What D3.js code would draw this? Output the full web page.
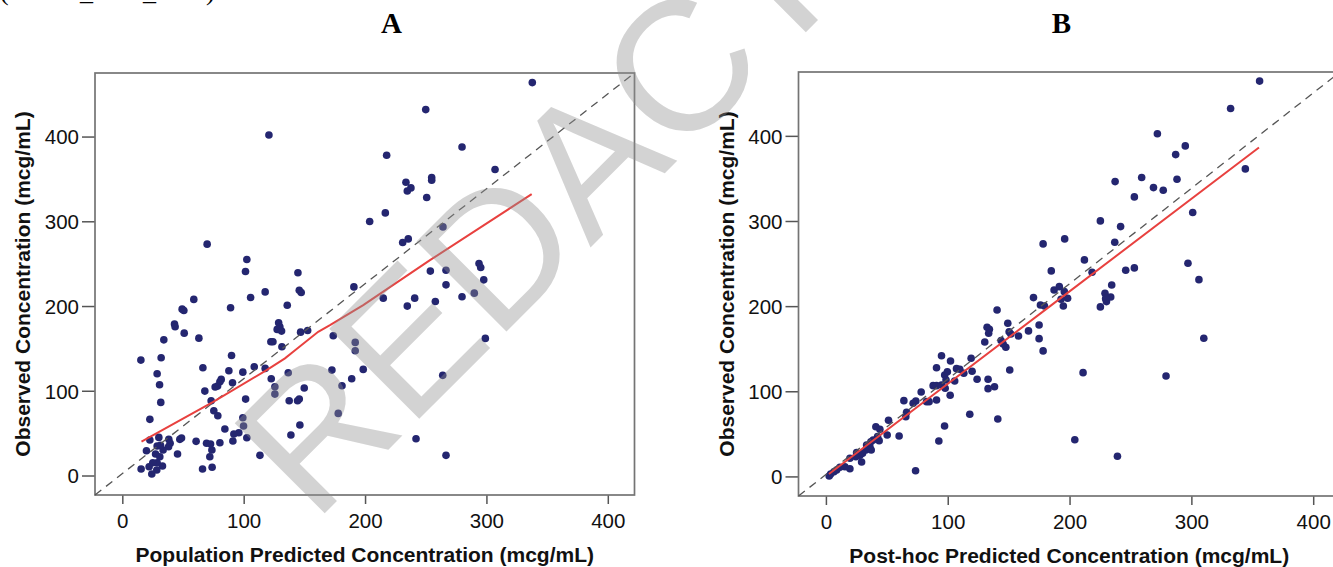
<!DOCTYPE html>
<html>
<head>
<meta charset="utf-8">
<script src="https://cdn.jsdelivr.net/npm/d3@7"></script>
<style>
  html, body { margin: 0; padding: 0; background: #fff; }
  svg { display: block; }
</style>
</head>
<body>
<script>
// ---------------- data ----------------
const tickValues = [0, 100, 200, 300, 400];

// Panel A: population predicted vs observed (mcg/mL)
const popPred = [
  120.8, 69.9, 102.6, 101.5, 117.7, 144.7, 145.8, 147.4, 105.7, 58.9,
  49.3, 50.7, 89.2, 135.9, 43.0, 43.5, 51.0, 34.2, 63.1, 128.8,
  129.8, 127.6, 131.2, 146.9, 152.7, 122.4, 124.1, 131.5, 15.3, 32.0,
  28.7, 30.7, 31.7, 22.7, 66.4, 90.0, 87.8, 99.3, 108.7, 117.7,
  122.7, 125.7, 125.7, 81.5, 80.4, 78.5, 76.5, 90.8, 68.0, 73.2,
  75.4, 78.7, 101.6, 99.3, 99.9, 96.0, 91.9, 91.1, 102.6, 84.5,
  80.4, 113.4, 60.8, 69.4, 72.7, 73.8, 72.1, 74.0, 66.1, 48.8,
  47.4, 45.5,
  22.7, 30.1, 38.3, 39.4, 38.1, 33.6, 28.7, 31.5, 19.9, 27.4,
  30.9, 28.7, 25.1, 22.1, 15.5, 33.1, 28.4, 24.3,
  337.8, 250.0, 279.9, 217.8, 307.1, 254.9, 254.9, 233.7, 237.8, 234.8,
  250.8, 216.7, 203.8, 264.2, 235.6, 231.0, 293.9, 295.3, 253.8, 266.7,
  190.8, 297.8, 266.7, 279.9, 290.0, 215.0, 240.9, 257.9, 234.8, 173.8,
  191.9, 191.9, 172.7, 198.5, 189.0, 181.0, 149.9, 137.5, 144.4, 145.8,
  146.3, 177.9, 299.1, 264.0, 242.0, 266.7, 138.9, 136.7
];
const obsPop = [
  401.9, 273.0, 255.0, 240.8, 216.7, 239.2, 218.7, 216.0, 210.1, 207.8,
  196.3, 194.8, 197.9, 201.0, 178.7, 175.5, 168.0, 160.1, 162.1, 180.2,
  175.5, 172.4, 170.4, 169.2, 171.2, 157.8, 157.8, 151.9, 136.2, 138.9,
  120.0, 107.1, 86.3, 66.3, 127.1, 141.7, 123.6, 122.0, 128.3, 126.4,
  114.2, 104.7, 96.1, 113.4, 110.6, 105.5, 104.4, 109.5, 99.6, 88.2,
  76.4, 70.5, 90.2, 68.2, 58.4, 50.5, 48.9, 40.7, 44.6, 54.8,
  38.7, 23.8, 40.3, 38.0, 37.1, 30.1, 22.2, 9.7, 7.7, 44.2,
  42.7, 25.4,
  41.9, 45.0, 42.7, 38.0, 34.0, 30.1, 34.8, 35.6, 29.2, 25.4,
  22.2, 15.1, 15.1, 10.4, 7.7, 11.2, 6.5, 1.8,
  463.7, 431.8, 387.7, 378.0, 361.1, 351.7, 348.5, 346.1, 339.4, 335.8,
  328.0, 309.9, 299.8, 293.4, 279.2, 275.0, 250.2, 245.5, 241.2, 242.3,
  222.6, 230.9, 225.0, 210.9, 215.2, 209.3, 209.3, 205.4, 199.9, 164.9,
  157.1, 147.2, 124.4, 125.2, 114.2, 105.9, 103.2, 88.2, 88.2, 90.2,
  59.6, 73.3, 161.8, 118.2, 43.4, 23.8, 47.8, 121.2
];
// Smoothed fit through panel A
const fitPopX = [15.8, 74.9, 118.9, 134.0, 140.8, 161.4, 171.1, 198.5, 253.5, 337.3];
const fitPopY = [39.9, 87.0, 124.4, 138.2, 146.0, 169.6, 177.5, 201.1, 254.1, 332.0];

// Panel B: post-hoc predicted vs observed (mcg/mL)
const postHoc = [
  178.3, 196.0, 185.0, 356.0, 332.2, 272.1, 295.0, 287.1, 259.2, 237.4,
  288.2, 268.9, 276.9, 253.2, 344.3, 301.1, 225.3, 241.9, 237.1, 212.2,
  297.2, 218.5, 246.1, 253.2, 306.2, 234.6, 187.3, 191.6, 195.7, 198.4,
  194.9, 193.0, 229.1, 230.3, 233.8, 225.3, 229.6, 310.2, 211.1, 279.2,
  204.3, 239.3,
  170.4, 176.1, 179.4, 140.5, 149.3, 132.3, 134.2, 133.6, 166.3, 158.1,
  150.4, 151.8, 175.0, 175.0, 178.3, 130.4, 143.8, 147.7, 145.5, 150.9,
  119.2, 120.0, 124.1, 133.1, 133.1, 138.4, 113.2, 109.9, 107.2, 102.3,
  94.9, 90.8, 97.5, 99.7, 98.6, 105.7, 88.0, 90.8, 94.9, 97.9,
  102.0, 90.8, 78.2, 82.6, 84.7, 73.8, 71.6, 64.0, 66.2, 65.6,
  51.4, 118.1, 141.1, 97.4, 92.7, 73.6, 60.1, 50.3, 41.0, 44.3,
  42.4, 43.7, 38.8, 36.9, 36.1, 33.4, 32.8, 37.2, 30.1, 25.2,
  27.9, 29.3, 24.6, 19.7, 19.7, 15.6, 11.5, 8.8, 6.6, 3.9,
  2.7
];
const obsPost = [
  273.1, 279.0, 241.4, 464.3, 432.1, 402.4, 388.2, 378.0, 351.0, 346.3,
  349.1, 339.2, 336.2, 328.3, 361.2, 309.9, 300.1, 293.4, 275.1, 254.3,
  250.4, 239.8, 242.2, 244.9, 231.1, 224.9, 219.0, 222.9, 217.0, 209.3,
  200.2, 208.1, 215.2, 205.3, 210.8, 199.1, 208.8, 162.3, 121.9, 118.0,
  43.1, 23.6,
  210.0, 201.4, 200.2, 195.5, 179.9, 175.2, 172.9, 168.2, 170.9, 165.0,
  170.0, 167.3, 177.9, 161.8, 147.4, 157.9, 159.5, 151.7, 155.6, 125.0,
  138.8, 123.5, 114.1, 114.1, 103.1, 105.4, 121.2, 125.9, 126.6, 135.6,
  141.8, 127.7, 119.2, 123.0, 113.3, 112.1, 106.6, 106.6, 107.4, 103.5,
  95.3, 89.8, 99.2, 87.8, 87.8, 88.6, 85.9, 89.0, 75.3, 70.2,
  65.9, 73.0, 67.5, 59.2, 41.6, 6.7, 47.5, 48.6, 58.4, 55.3,
  46.7, 42.0, 42.8, 40.8, 34.9, 36.9, 31.0, 31.0, 27.1, 27.9,
  24.8, 16.9, 23.1, 21.3, 9.0, 11.4, 10.7, 7.5, 5.5, 2.8,
  0.5
];
const fitPostX = [2.5, 184.6, 355.5];
const fitPostY = [2.8, 200.6, 386.3];

const panelLetters = ["A", "B"];
const xTitles = ["Population Predicted Concentration (mcg/mL)", "Post-hoc Predicted Concentration (mcg/mL)"];
const yTitle = "Observed Concentration (mcg/mL)";
const watermark = "REDACTED";

// ---------------- drawing ----------------
const W = 1333, H = 567;
const xDomain = [-22.5, 422];
const yDomain = [-23, 475];

const svg = d3.select("body").append("svg")
  .attr("width", W).attr("height", H)
  .attr("viewBox", `0 0 ${W} ${H}`);
svg.append("rect").attr("width", W).attr("height", H).attr("fill", "#fff");

const panels = [
  { box: { x0: 95, x1: 634.5, y0: 73, y1: 495 }, xs: popPred, ys: obsPop,
    fx: fitPopX, fy: fitPopY, letter: panelLetters[0], letterX: 391.5, xTitle: xTitles[0] },
  { box: { x0: 798.5, x1: 1340, y0: 72, y1: 496 }, xs: postHoc, ys: obsPost,
    fx: fitPostX, fy: fitPostY, letter: panelLetters[1], letterX: 1061.5, xTitle: xTitles[1] }
];

const sans = "'Liberation Sans', Arial, sans-serif";

panels.forEach(p => {
  const b = p.box;
  const x = d3.scaleLinear().domain(xDomain).range([b.x0, b.x1]);
  const y = d3.scaleLinear().domain(yDomain).range([b.y1, b.y0]);
  const g = svg.append("g");

  // panel letter
  g.append("text")
    .attr("x", p.letterX).attr("y", 33)
    .attr("text-anchor", "middle")
    .attr("font-family", "'Liberation Serif', 'Times New Roman', serif")
    .attr("font-weight", "bold").attr("font-size", 29)
    .attr("fill", "#000")
    .text(p.letter);

  // axes
  const xAxis = g.append("g")
    .attr("transform", `translate(0,${b.y1})`)
    .call(d3.axisBottom(x).tickValues(tickValues).tickSize(9).tickPadding(9).tickFormat(d3.format("d")));
  const yAxis = g.append("g")
    .attr("transform", `translate(${b.x0},0)`)
    .call(d3.axisLeft(y).tickValues(tickValues).tickSize(13).tickPadding(3).tickFormat(d3.format("d")));
  [xAxis, yAxis].forEach(ax => {
    ax.select(".domain").remove();
    ax.selectAll(".tick line").attr("stroke", "#555").attr("stroke-width", 1.5);
    ax.selectAll(".tick text")
      .attr("font-family", sans).attr("font-size", 20.5).attr("fill", "#111");
  });
  yAxis.selectAll(".tick text").attr("dy", "0.36em");

  // plot frame
  g.append("rect")
    .attr("x", b.x0).attr("y", b.y0)
    .attr("width", b.x1 - b.x0).attr("height", b.y1 - b.y0)
    .attr("fill", "none").attr("stroke", "#747474").attr("stroke-width", 1.7);

  // points
  g.append("g").selectAll("circle")
    .data(d3.range(p.xs.length))
    .join("circle")
    .attr("cx", i => x(p.xs[i]))
    .attr("cy", i => y(p.ys[i]))
    .attr("r", 3.8)
    .attr("fill", "#242670");

  // reference diagonal, corner to corner of the plot area
  g.append("line")
    .attr("x1", x(xDomain[0])).attr("y1", y(yDomain[0]))
    .attr("x2", x(xDomain[1])).attr("y2", y(yDomain[1]))
    .attr("stroke", "#555").attr("stroke-width", 1.3)
    .attr("stroke-dasharray", "8,6");

  // fit line
  const line = d3.line().x(i => x(p.fx[i])).y(i => y(p.fy[i]));
  g.append("path")
    .attr("d", line(d3.range(p.fx.length)))
    .attr("fill", "none").attr("stroke", "#e8413f").attr("stroke-width", 2);

  // axis titles
  g.append("text")
    .attr("x", (b.x0 + Math.min(b.x1, b.x0 + 541.5)) / 2).attr("y", b.y1 + 66.5)
    .attr("text-anchor", "middle")
    .attr("font-family", sans).attr("font-weight", "bold").attr("font-size", 21)
    .attr("fill", "#111")
    .text(p.xTitle);
  g.append("text")
    .attr("transform", `translate(${b.x0 - 65},${(b.y0 + b.y1) / 2}) rotate(-90)`)
    .attr("text-anchor", "middle")
    .attr("font-family", sans).attr("font-weight", "bold").attr("font-size", 21)
    .attr("fill", "#111")
    .text(yTitle);
});

// clipped caption line above the figure
const captionGlyphs = [["(", 0], ["_", 80], ["_", 143], [")", 206]];
svg.append("g").selectAll("text")
  .data(captionGlyphs)
  .join("text")
  .attr("x", d => d[1]).attr("y", 0)
  .attr("font-family", "'Liberation Serif', serif").attr("font-size", 26)
  .attr("fill", "#000")
  .text(d => d[0]);

// watermark across the figure
svg.append("text")
  .attr("transform", "translate(314,524) rotate(-45)")
  .attr("font-family", sans).attr("font-size", 185)
  .attr("fill", "#909090").attr("fill-opacity", 0.4)
  .text(watermark);
</script>
</body>
</html>
